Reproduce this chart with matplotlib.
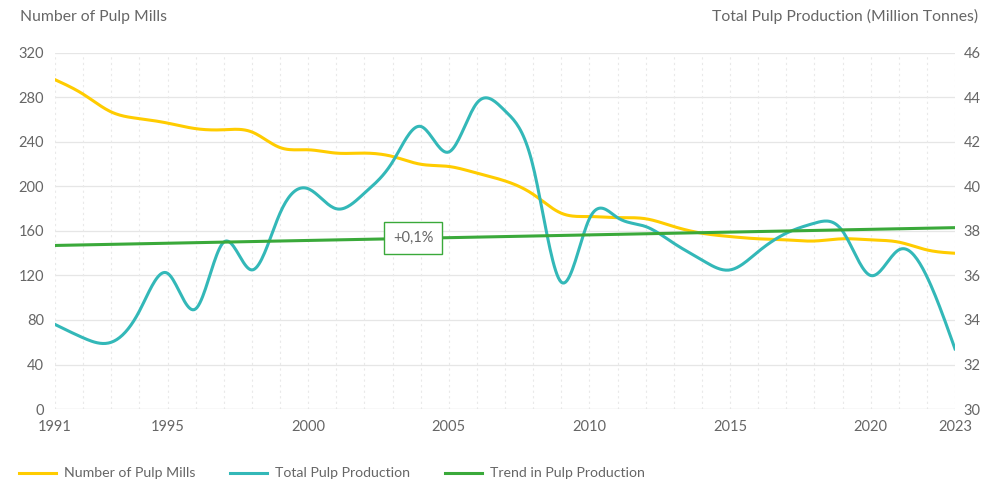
import matplotlib
matplotlib.use("Agg")
import matplotlib.pyplot as plt
import numpy as np

years = list(range(1991, 2024))
mills = [296, 283, 267, 261, 257, 252, 251, 249, 235, 233, 230, 230, 227, 220, 218, 212,
         205, 193, 176, 173, 172, 171, 164, 158, 155, 153, 152, 151, 153, 152, 150, 143, 140]
production = [33.8, 33.2, 33.0, 34.4, 36.1, 34.5, 37.5, 36.25, 38.8, 39.9, 39.0, 39.7, 41.1,
              42.7, 41.55, 43.75, 43.4, 40.9, 35.7, 38.55, 38.6, 38.2, 37.45, 36.7, 36.25,
              37.07, 37.9, 38.35, 38.0, 36.0, 37.15, 35.95, 32.7]
trend_years = [1991, 2023]
trend_values = [37.35, 38.15]
trend_label = "+0,1%"
xtick_years = [1991, 1995, 2000, 2005, 2010, 2015, 2020, 2023]

YELLOW = "#FFCC00"
TEAL = "#33B8B8"
GREEN = "#3AA93A"
TEXT = "#666666"
GRID = "#E6E6E6"


def smooth(x, y, n=20):
    # natural cubic spline through the points, for the rounded look of the original
    x = np.asarray(x, float)
    y = np.asarray(y, float)
    k = len(x)
    h = np.diff(x)
    A = np.zeros((k, k))
    b = np.zeros(k)
    A[0, 0] = A[-1, -1] = 1
    for i in range(1, k - 1):
        A[i, i - 1] = h[i - 1]
        A[i, i] = 2 * (h[i - 1] + h[i])
        A[i, i + 1] = h[i]
        b[i] = 6 * ((y[i + 1] - y[i]) / h[i] - (y[i] - y[i - 1]) / h[i - 1])
    M = np.linalg.solve(A, b)
    xs, ys = [], []
    for i in range(k - 1):
        t = np.linspace(x[i], x[i + 1], n, endpoint=False)
        a = x[i + 1] - t
        c = t - x[i]
        s = (M[i] * a ** 3 + M[i + 1] * c ** 3) / (6 * h[i]) \
            + (y[i] / h[i] - M[i] * h[i] / 6) * a + (y[i + 1] / h[i] - M[i + 1] * h[i] / 6) * c
        xs.extend(t)
        ys.extend(s)
    xs.append(x[-1])
    ys.append(y[-1])
    return np.array(xs), np.array(ys)


plt.rcParams["font.family"] = ["Lato", "DejaVu Sans"]

fig = plt.figure(figsize=(10.02, 4.83), dpi=100)
ax = fig.add_axes([0.0549, 0.1532, 0.8982, 0.7371])
ax2 = ax.twinx()

ax.set_xlim(1991, 2023)
ax.set_ylim(0, 320)
ax2.set_ylim(30, 46)
ax.set_yticks(range(0, 321, 40))
ax2.set_yticks(range(30, 47, 2))
ax.set_xticks(xtick_years)

# grid
for v in range(40, 321, 40):
    ax.axhline(v, color=GRID, lw=0.9, zorder=0)
for yr in years:
    ax.axvline(yr, color="#E9E9E9", lw=0.8, ls=(0, (2, 3)), zorder=0)
ax.axhline(0, color="#DDDDDD", lw=1.0, zorder=0)

for a in (ax, ax2):
    for s in a.spines.values():
        s.set_visible(False)
    a.tick_params(length=0, colors=TEXT, labelsize=10.5)
ax.tick_params(axis="x", pad=8)
ax.tick_params(axis="y", pad=8)
ax2.tick_params(axis="y", pad=6)

sx, sy = smooth(years, mills)
ax.plot(sx, sy, color=YELLOW, lw=2.2, zorder=3)
px, py = smooth(years, production)
ax2.plot(px, py, color=TEAL, lw=2.2, zorder=3)
ax2.plot(trend_years, trend_values, color=GREEN, lw=2.2, zorder=4)

lx = 2003.73
ly = np.interp(lx, trend_years, trend_values)
ax2.text(lx, ly, trend_label, ha="center", va="center", fontsize=10.5, color=TEXT, zorder=5,
         bbox=dict(boxstyle="square,pad=0.62", fc="white", ec=GREEN, lw=1.0))

fig.text(0.02, 0.965, "Number of Pulp Mills", ha="left", va="center", fontsize=11.3, color=TEXT)
fig.text(0.976, 0.965, "Total Pulp Production (Million Tonnes)", ha="right", va="center",
         fontsize=11.3, color=TEXT)

# legend
items = [("Number of Pulp Mills", YELLOW, 19), ("Total Pulp Production", TEAL, 230),
         ("Trend in Pulp Production", GREEN, 445)]
fy = 1 - 473 / 483
for label, col, x0 in items:
    fig.add_artist(plt.Line2D([x0 / 1002, (x0 + 37) / 1002], [fy, fy], color=col, lw=2.2))
    fig.text((x0 + 45) / 1002, fy, label, ha="left", va="center", fontsize=10.2, color=TEXT)

fig.savefig("out.png", dpi=100)
